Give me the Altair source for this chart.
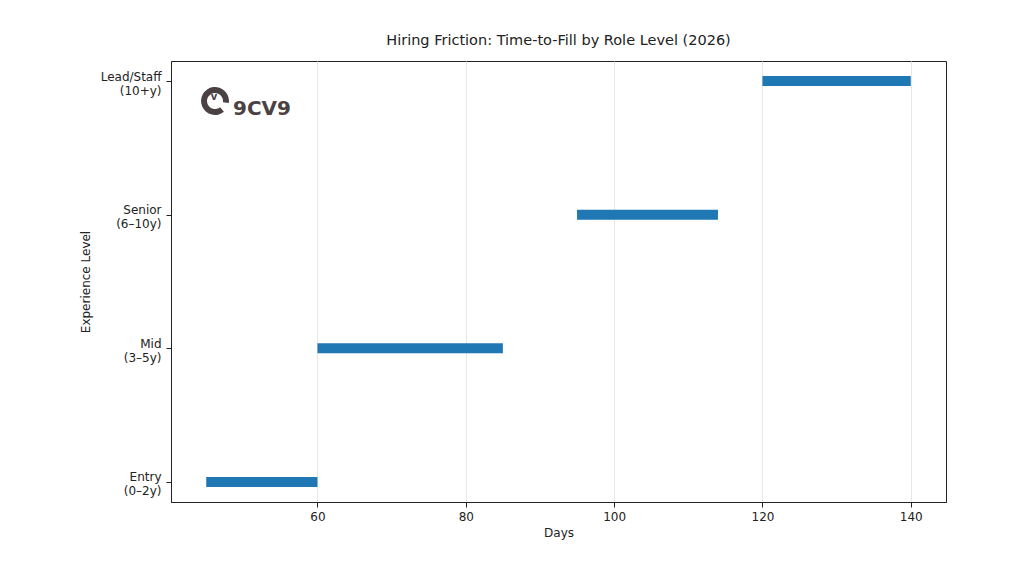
import altair as alt
import pandas as pd

levels = ["Entry|(0–2y)", "Mid|(3–5y)", "Senior|(6–10y)", "Lead/Staff|(10+y)"]
start_days = [45, 60, 95, 120]
end_days = [60, 85, 114, 140]
x_ticks = [60, 80, 100, 120, 140]

df = pd.DataFrame({"level": levels, "start": start_days, "end": end_days})

FONT = "DejaVu Sans"
INK = "#222"

y_enc = alt.Y(
    "level:N",
    sort=list(reversed(levels)),
    scale=alt.Scale(type="point", padding=0.15),
    axis=alt.Axis(
        title="Experience Level",
        labelExpr="split(datum.label, '|')",
        labelLineHeight=14,
        labelOffset=-5,
        labelFontSize=12,
        labelColor=INK,
        titleFontSize=12,
        titleFontWeight="normal",
        titleColor=INK,
        titlePadding=8,
        tickSize=5,
        tickColor=INK,
        labelPadding=5,
        grid=False,
        domainColor=INK,
    ),
)

bars = alt.Chart(df).mark_rule(strokeWidth=10, color="#1f77b4", strokeCap="butt").encode(
    x=alt.X(
        "start:Q",
        scale=alt.Scale(domain=[40.25, 144.75], nice=False, zero=False),
        axis=alt.Axis(
            title="Days",
            values=x_ticks,
            labelFontSize=12,
            labelColor=INK,
            titleFontSize=12,
            titleFontWeight="normal",
            titleColor=INK,
            tickSize=5,
            tickColor=INK,
            labelPadding=4,
            titlePadding=5,
            grid=True,
            gridColor="#e6e6e6",
            gridWidth=1,
            domainColor=INK,
        ),
    ),
    x2="end:Q",
    y=y_enc,
)

logo_df = pd.DataFrame({"t": ["9CV9"]})
ring = alt.Chart(logo_df).mark_arc(color="#4a4242").encode(
    x=alt.value(44),
    y=alt.value(40),
    radius=alt.value(14),
    radius2=alt.value(8),
    theta=alt.value(2.45),
    theta2=alt.value(8.0),
)
vmark = alt.Chart(logo_df).mark_text(
    text="v", font=FONT, fontSize=10, fontWeight="bold", color="#4a4242"
).encode(x=alt.value(43), y=alt.value(36))
logo_text = alt.Chart(logo_df).mark_text(
    font=FONT, fontSize=20, fontWeight="bold", color="#4a4242", align="left", baseline="middle"
).encode(x=alt.value(62), y=alt.value(48), text="t:N")

chart = (
    alt.layer(bars, ring, vmark, logo_text)
    .properties(
        width=775,
        height=441,
        title=alt.TitleParams(
            "Hiring Friction: Time-to-Fill by Role Level (2026)",
            fontSize=14.5,
            fontWeight="normal",
            font=FONT,
            color=INK,
            offset=13,
        ),
        padding={"left": 71, "top": 24, "right": 10, "bottom": 10},
    )
    .configure(font=FONT, background="white")
    .configure_view(stroke=INK, strokeWidth=1)
    .configure_axis(labelFont=FONT, titleFont=FONT)
)

chart.save("out.html", embed_options={"renderer": "svg", "actions": False})
